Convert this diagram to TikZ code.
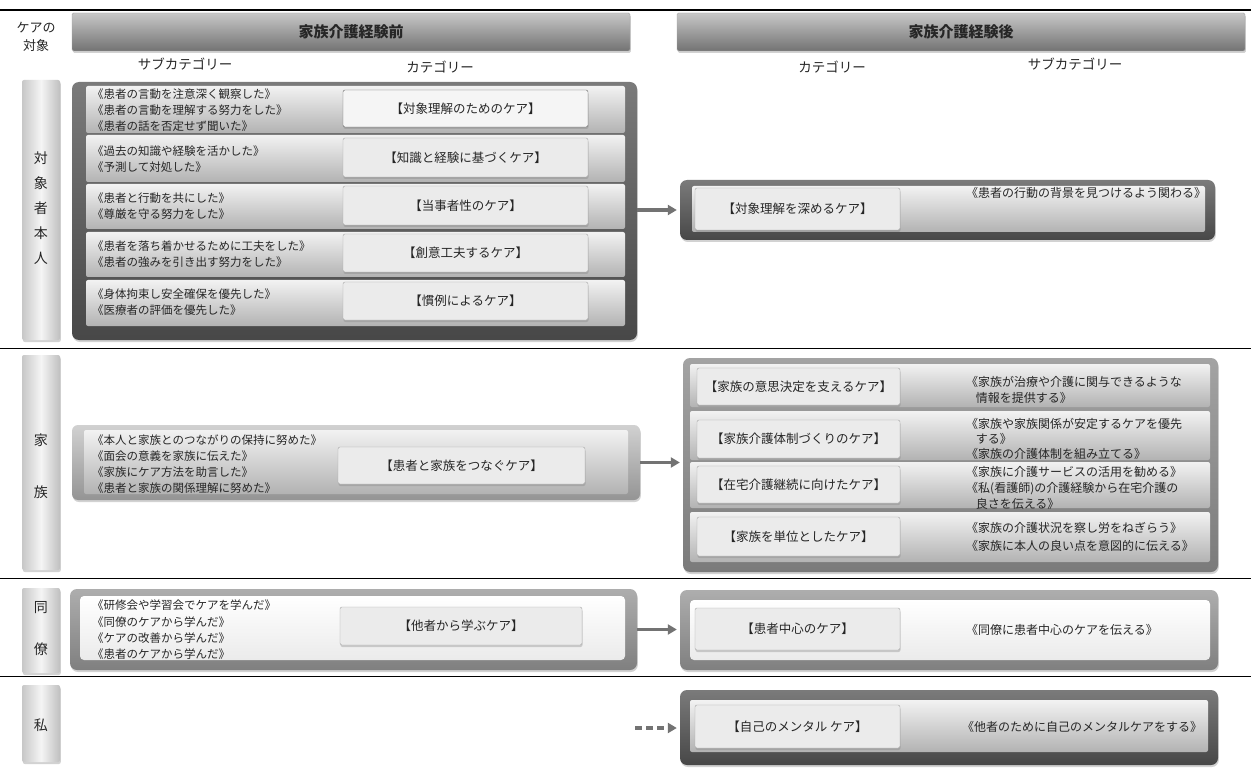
\documentclass[tikz,border=0pt]{standalone}
\usepackage{fontspec}
\setmainfont{Noto Sans CJK JP}
\usetikzlibrary{shadows,arrows.meta}
\newcommand\bx[7][]{\node[#1, inner sep=0pt, minimum width={#5-#3}, minimum height={#6-#4}] (#2) at ({(#3+#5)/2},{(#4+#6)/2}) {#7};}
\begin{document}
\begin{tikzpicture}[x=1pt,y=-1pt,
  every node/.style={text=black!85},
  shd/.style={drop shadow={opacity=0.35,shadow xshift=0.8pt,shadow yshift=-2pt}},
  hdr/.style={rounded corners=1.5pt, top color=black!22, bottom color=black!55, draw=black!35, shd, font=\fontsize{15}{18}\selectfont\bfseries},
  lab/.style={rounded corners=2pt, left color=black!22, right color=black!25, middle color=black!4, shd},
  labtxt/.style={align=center, inner sep=0pt},
  darkout/.style={rounded corners=7pt, top color=black!52, bottom color=black!72, shd},
  midout/.style={rounded corners=7pt, top color=black!36, bottom color=black!52, shd},
  lightout/.style={rounded corners=6pt, top color=black!18, bottom color=black!42, shd},
  greyout/.style={rounded corners=7pt, top color=black!32, bottom color=black!50, shd},
  row/.style={rounded corners=2pt, top color=black!5, bottom color=black!30},
  inner/.style={rounded corners=4pt, top color=white, bottom color=black!8},
  cat/.style={rounded corners=2pt, fill=black!8, draw=black!35, drop shadow={opacity=0.35,shadow xshift=0.5pt,shadow yshift=-2pt}, font=\fontsize{12.5}{14}\selectfont},
  sub/.style={anchor=north west, align=left, inner sep=0pt, font=\fontsize{11.5}{16}\selectfont},
  subr/.style={anchor=north west, align=left, inner sep=0pt, font=\fontsize{12}{16}\selectfont},
  arr/.style={draw=black!55, line width=3.2pt, -{Triangle[length=9pt,width=10pt]}, shorten >=3pt}
]
\useasboundingbox (0,0) rectangle (1251,770);
\fill[white] (0,0) rectangle (1251,770);
% rules
\draw[line width=2.5pt] (0,10) -- (1251,10);
\draw[line width=0.9pt] (0,348) -- (1251,348);
\draw[line width=0.9pt] (0,578) -- (1251,578);
\draw[line width=0.9pt] (0,676) -- (1251,676);
% headers
\bx[hdr]{H1}{72}{13}{630}{51}{家族介護経験前}
\bx[hdr]{H2}{677}{13}{1245}{51}{家族介護経験後}
\node[align=center, inner sep=0pt, font=\fontsize{13}{18}\selectfont] (ct) at (36,37) {ケアの\\対象};
\node[font=\fontsize{13.5}{16}\selectfont] (sh1) at (185,64) {サブカテゴリー};
\node[font=\fontsize{13.5}{16}\selectfont] (sh2) at (440,67) {カテゴリー};
\node[font=\fontsize{13.5}{16}\selectfont] (sh3) at (832,67) {カテゴリー};
\node[font=\fontsize{13.5}{16}\selectfont] (sh4) at (1075,64) {サブカテゴリー};
% ===== section 1
\bx[lab]{P1}{22}{80}{60}{340}{}
\node[labtxt, font=\fontsize{14}{25}\selectfont] (P1t) at (41,208) {対\\象\\者\\本\\人};
\bx[darkout]{L1}{72}{82}{637}{340}{}
\bx[row]{L1a}{86}{86}{625}{133}{}
\bx[row]{L1b}{86}{135}{625}{182}{}
\bx[row]{L1c}{86}{184}{625}{229}{}
\bx[row]{L1d}{86}{232}{625}{277}{}
\bx[row]{L1e}{86}{280}{625}{326}{}
\bx[cat, fill=black!4, draw=black!60]{C1a}{343}{90}{588}{127}{【対象理解のためのケア】}
\bx[cat]{C1b}{343}{138}{588}{177}{【知識と経験に基づくケア】}
\bx[cat]{C1c}{343}{186}{588}{225}{【当事者性のケア】}
\bx[cat]{C1d}{343}{234}{588}{272}{【創意工夫するケア】}
\bx[cat]{C1e}{343}{282}{588}{320}{【慣例によるケア】}
\node[sub] (S1a) at (92,89) {《患者の言動を注意深く観察した》\\《患者の言動を理解する努力をした》\\《患者の話を否定せず聞いた》};
\node[sub] (S1b) at (92,146) {《過去の知識や経験を活かした》\\《予測して対処した》};
\node[sub] (S1c) at (92,193) {《患者と行動を共にした》\\《尊厳を守る努力をした》};
\node[sub] (S1d) at (92,241) {《患者を落ち着かせるために工夫をした》\\《患者の強みを引き出す努力をした》};
\node[sub] (S1e) at (92,289) {《身体拘束し安全確保を優先した》\\《医療者の評価を優先した》};
\bx[darkout]{R1}{680}{180}{1215}{240}{}
\bx[row]{R1r}{692}{186}{1205}{232}{}
\bx[cat]{R1c}{695}{188}{900}{230}{【対象理解を深めるケア】}
\node[subr] (R1s) at (966,187) {《患者の行動の背景を見つけるよう関わる》};
\draw[arr] (R1.west -| L1.east) -- (R1.west);
% ===== section 2
\bx[lab]{P2}{22}{355}{60}{570}{}
\node[labtxt, font=\fontsize{14}{52}\selectfont] (P2t) at (41,466) {家\\族};
\bx[lightout]{L2}{72}{425}{640}{500}{}
\bx[row]{L2r}{84}{430}{628}{494}{}
\bx[cat]{C2}{338}{447}{585}{484}{【患者と家族をつなぐケア】}
\node[sub, font=\fontsize{11.5}{15.7}\selectfont] (S2) at (92,435) {《本人と家族とのつながりの保持に努めた》\\《面会の意義を家族に伝えた》\\《家族にケア方法を助言した》\\《患者と家族の関係理解に努めた》};
\bx[midout]{R2}{683}{358}{1218}{572}{}
\bx[row]{R2a}{690}{364}{1210}{407}{}
\bx[row]{R2b}{690}{411}{1210}{460}{}
\bx[row]{R2c}{690}{462}{1210}{508}{}
\bx[row]{R2d}{690}{512}{1210}{562}{}
\bx[cat]{C2a}{697}{368}{900}{405}{【家族の意思決定を支えるケア】}
\bx[cat]{C2b}{697}{420}{900}{458}{【家族介護体制づくりのケア】}
\bx[cat]{C2c}{697}{466}{900}{503}{【在宅介護継続に向けたケア】}
\bx[cat]{C2d}{697}{517}{900}{556}{【家族を単位としたケア】}
\node[subr] (S2a) at (966,376) {《家族が治療や介護に関与できるような\\\hspace*{0.8em}情報を提供する》};
\node[subr, font=\fontsize{12}{15}\selectfont] (S2b) at (966,418) {《家族や家族関係が安定するケアを優先\\\hspace*{0.8em}する》\\《家族の介護体制を組み立てる》};
\node[subr] (S2c) at (966,466) {《家族に介護サービスの活用を勧める》\\《私(看護師)の介護経験から在宅介護の\\\hspace*{0.8em}良さを伝える》};
\node[subr, font=\fontsize{12}{18}\selectfont] (S2d) at (966,522) {《家族の介護状況を察し労をねぎらう》\\《家族に本人の良い点を意図的に伝える》};
\draw[arr] (L2.east) -- (L2.east -| R2.west);
% ===== section 3
\bx[lab]{P3}{22}{588}{60}{673}{}
\node[labtxt, font=\fontsize{14}{42}\selectfont] (P3t) at (41,629) {同\\僚};
\bx[greyout]{L3}{70}{589}{637}{670}{}
\bx[inner]{L3r}{80}{596}{625}{660}{}
\bx[cat]{C3}{340}{607}{582}{645}{【他者から学ぶケア】}
\node[sub, font=\fontsize{11.5}{16.3}\selectfont] (S3) at (92,600) {《研修会や学習会でケアを学んだ》\\《同僚のケアから学んだ》\\《ケアの改善から学んだ》\\《患者のケアから学んだ》};
\bx[greyout]{R3}{680}{590}{1218}{670}{}
\bx[inner]{R3r}{690}{600}{1210}{660}{}
\bx[cat]{C3r}{695}{608}{900}{650}{【患者中心のケア】}
\node[subr, anchor=west] (S3r) at (966,630) {《同僚に患者中心のケアを伝える》};
\draw[arr] (L3.east) -- (L3.east -| R3.west);
% ===== section 4
\bx[lab]{P4}{22}{685}{60}{762}{}
\node[labtxt, font=\fontsize{14}{16}\selectfont] (P4t) at (41,725) {私};
\bx[darkout]{R4}{680}{690}{1218}{765}{}
\bx[row]{R4r}{690}{700}{1208}{752}{}
\bx[cat]{C4}{695}{705}{900}{748}{【自己のメンタル ケア】}
\node[subr, anchor=west] (S4) at (962,727) {《他者のために自己のメンタルケアをする》};
\coordinate (s4) at (635,728);
\draw[arr, dash pattern=on 7pt off 4pt] (s4) -- (s4 -| R4.west);
\end{tikzpicture}
\end{document}
